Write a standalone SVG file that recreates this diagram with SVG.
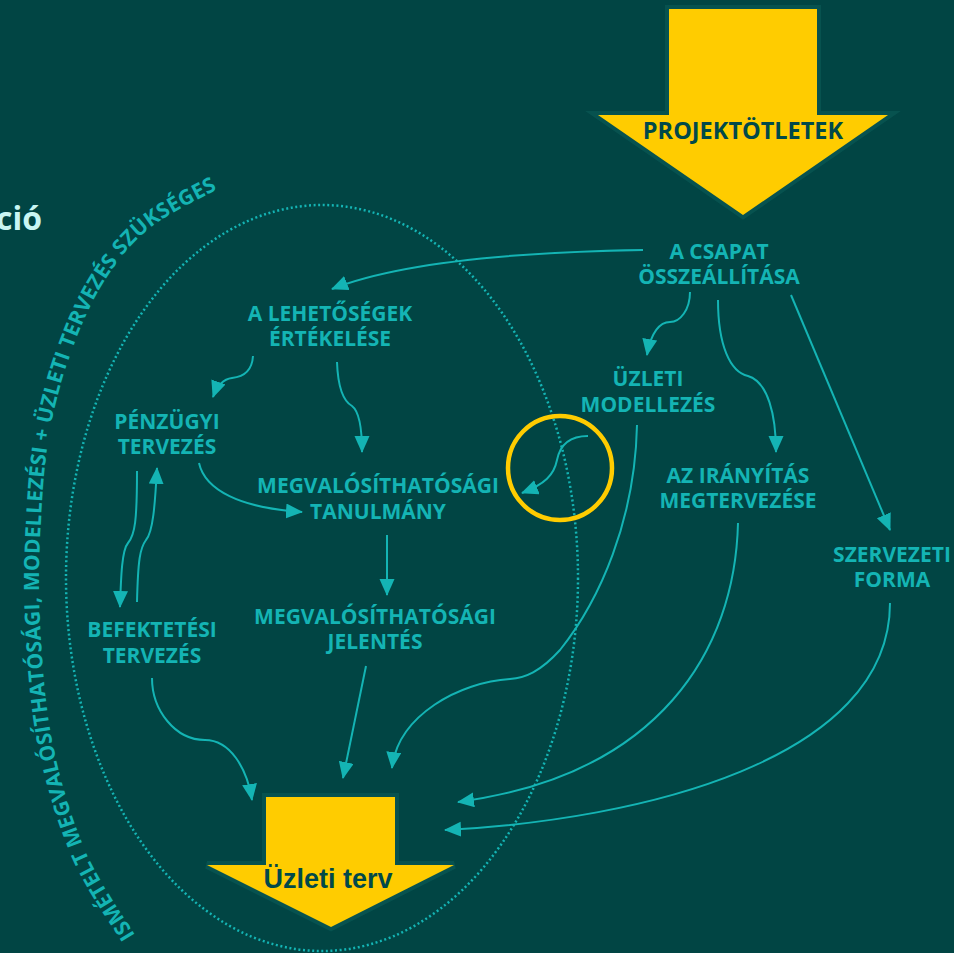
<svg xmlns="http://www.w3.org/2000/svg" width="954" height="953" viewBox="0 0 954 953">
<defs>
<style>
.bg{fill:#014544}
.lbl{font-family:"Open Sans","Liberation Sans",sans-serif;font-weight:700;font-size:21px;fill:#14b4b4;text-anchor:middle}
.cn{fill:none;stroke:#14b4b4;stroke-width:2;marker-end:url(#ah)}
.big{fill:#ffcc00;stroke:#07524f;stroke-width:8;paint-order:stroke;stroke-linejoin:miter}
.bigtxt{font-weight:700;fill:#01494a;text-anchor:middle}
</style>
<marker id="ah" markerUnits="userSpaceOnUse" markerWidth="18" markerHeight="16" refX="16" refY="7.5" orient="auto">
<path d="M0,0 L17,7.5 L0,15 z" fill="#14b4b4"/>
</marker>
<path id="arcp" d="M135,935 C126.7,920.8 98.8,882.5 85,850 C71.2,817.5 59.5,778.3 52,740 C44.5,701.7 41.8,656.7 40,620 C38.2,583.3 39.3,551.7 41,520 C42.7,488.3 44.8,458.3 50,430 C55.2,401.7 62.8,375 72,350 C81.2,325 92,300.3 105,280 C118,259.7 130.8,243.3 150,228 C169.2,212.7 208.3,194.7 222,187"/>
</defs>
<rect class="bg" x="0" y="0" width="954" height="953"/>

<text x="42" y="230" font-family="'Open Sans','Liberation Sans',sans-serif" font-weight="700" font-size="32" fill="#c9f6f3" text-anchor="end">ció</text>

<ellipse cx="322" cy="578" rx="256" ry="373" fill="none" stroke="#14b4b4" stroke-width="2.5" stroke-dasharray="2 2.6"/>

<text font-family="'Open Sans','Liberation Sans',sans-serif" font-weight="700" font-size="21" fill="#14b4b4"><textPath href="#arcp" textLength="832" lengthAdjust="spacing">ISMÉTELT MEGVALÓSÍTHATÓSÁGI, MODELLEZÉSI + ÜZLETI TERVEZÉS SZÜKSÉGES</textPath></text>

<g id="projektotletek">
<polygon class="big" points="669,9 817,9 817,115 888,115 743,215 598,115 669,115"/>
<text class="bigtxt" x="743" y="139" font-family="'Open Sans','Liberation Sans',sans-serif" font-size="23.5">PROJEKTÖTLETEK</text>
</g>

<g id="uzleti-terv">
<polygon class="big" points="266,797 395,797 395,865 454,865 331,927 207,865 266,865"/>
<text class="bigtxt" x="328" y="888" font-family="'Liberation Sans',Arial,sans-serif" font-size="27">Üzleti terv</text>
</g>

<g id="csapat"><text class="lbl" x="719" y="259">A CSAPAT</text><text class="lbl" x="719" y="284">ÖSSZEÁLLÍTÁSA</text></g>
<g id="lehetosegek"><text class="lbl" x="330" y="321">A LEHETŐSÉGEK</text><text class="lbl" x="330" y="346">ÉRTÉKELÉSE</text></g>
<g id="penzugyi"><text class="lbl" x="167" y="429">PÉNZÜGYI</text><text class="lbl" x="167" y="454">TERVEZÉS</text></g>
<g id="befektetesi"><text class="lbl" x="152" y="637">BEFEKTETÉSI</text><text class="lbl" x="152" y="663">TERVEZÉS</text></g>
<g id="tanulmany"><text class="lbl" x="378" y="493">MEGVALÓSÍTHATÓSÁGI</text><text class="lbl" x="378" y="519">TANULMÁNY</text></g>
<g id="jelentes"><text class="lbl" x="375" y="624">MEGVALÓSÍTHATÓSÁGI</text><text class="lbl" x="375" y="649">JELENTÉS</text></g>
<g id="modellezes"><text class="lbl" x="648" y="386">ÜZLETI</text><text class="lbl" x="648" y="412">MODELLEZÉS</text></g>
<g id="iranyitas"><text class="lbl" x="738" y="483">AZ IRÁNYÍTÁS</text><text class="lbl" x="738" y="508">MEGTERVEZÉSE</text></g>
<g id="szervezeti"><text class="lbl" x="892" y="562">SZERVEZETI</text><text class="lbl" x="892" y="587">FORMA</text></g>

<g id="highlight"><circle cx="560" cy="468" r="52" fill="none" stroke="#ffcc00" stroke-width="4.5"/></g>

<g id="connectors">
<path class="cn" d="M643,250 C520,252 400,262 332,289"/>
<path class="cn" d="M253,356 C252,372 242,377 232,378 C224,379 217,386 213,397"/>
<path class="cn" d="M337,362 C338,390 345,402 352,406 C360,412 362,430 362,452"/>
<path class="cn" d="M199,463 C205,490 240,508 302,512"/>
<path class="cn" d="M137,471 C137,520 135,535 128,543 C122,550 121,575 120,607"/>
<path class="cn" d="M137,602 C138,560 140,548 146,540 C153,532 155,505 157,468"/>
<path class="cn" d="M152,678 C152,710 175,740 205,740 C230,740 247,768 252,800"/>
<path class="cn" d="M387,535 L387,595"/>
<path class="cn" d="M366,666 L343,778"/>
<path class="cn" d="M637,425 C635,520 600,600 560,650 C540,672 525,678 510,679 C460,682 398,715 392,768"/>
<path class="cn" d="M690,292 C690,310 680,322 670,322 C660,322 651,332 647,355"/>
<path class="cn" d="M718,300 C718,345 730,372 748,376 C768,382 776,415 776,452"/>
<path class="cn" d="M791,295 L890,530"/>
<path class="cn" d="M738,523 C735,650 660,775 458,802"/>
<path class="cn" d="M890,603 C890,760 640,820 445,830"/>
<path class="cn" d="M588,436 C570,436 560,445 557,460 C554,475 545,484 522,493"/>
</g>
</svg>
